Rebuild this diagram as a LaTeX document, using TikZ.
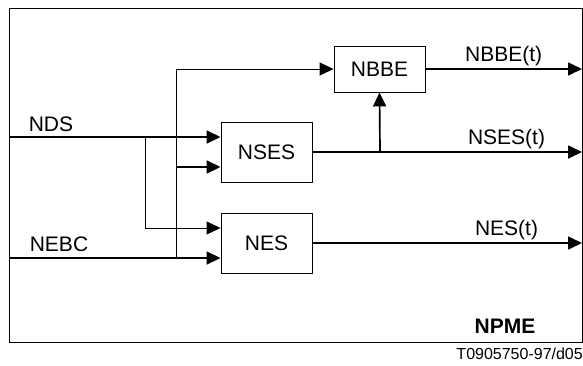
\documentclass[tikz,border=0pt]{standalone}
\usepackage{fontspec}
\setmainfont{Liberation Sans}
\usepackage{tikz}
\usetikzlibrary{arrows.meta,positioning,calc}

\tikzset{
    blk/.style={draw, line width=0.9pt, minimum width=91pt, inner sep=0pt, font=\fontsize{21}{25}\selectfont},
    sig/.style={line width=1.7pt, -{Triangle[length=14pt,width=13pt]}},
    tap/.style={line width=0.9pt},
    lbl/.style={font=\fontsize{21}{25}\selectfont}
}

\begin{document}
\begin{tikzpicture}[x=1pt,y=-1pt]
        \useasboundingbox (0,0) rectangle (583,365);
        \draw[line width=0.9pt] (9,8) rectangle (582,342);
        % blocks
        \node[blk, minimum height=60pt] (NSES) at (266.5,152) {NSES};
        \node[blk, minimum height=60pt] (NES) at (266.5,243) {NES};
        \node[blk, minimum height=46pt] (NBBE) at (379.5,69) {NBBE};
        % inputs
        \coordinate (NDS) at (9,137);
        \coordinate (NEBC) at (9,258);
        \coordinate (A) at (145,137);
        \coordinate (B) at (176,258);
        \coordinate (C) at (176,167);
        \coordinate (D) at (145,228);
        \coordinate (E) at (176,69);
        \draw[sig] (NDS) -- (NDS -| NSES.west);
        \draw[sig] (NEBC) -- (NEBC -| NES.west);
        \draw[tap] (A) -- (D);
        \draw[tap, -{Triangle[length=14pt,width=13pt]}] (D) -- (D -| NES.west);
        \draw[tap] (B) -- (E);
        \draw[tap, -{Triangle[length=14pt,width=13pt]}] (E) -- (NBBE.west);
        \draw[sig] (C) -- (C -| NSES.west);
        % outputs
        \coordinate (F) at (380,152);
        \draw[sig] (NBBE.east) -- (582,69) node[lbl, pos=0.5, above=-1pt] {NBBE(t)};
        \draw[sig] (NSES.east) -- (582,152) node[lbl, pos=0.72, above=-1pt] {NSES(t)};
        \draw[sig] (F) -- (NBBE.south);
        \draw[sig] (NES.east) -- (582,243) node[lbl, pos=0.72, above=-1pt] {NES(t)};
        % labels
        \node[lbl] (ndslbl) at (51,124) {NDS};
        \node[lbl] (nebclbl) at (59,244) {NEBC};
        \node[lbl, font=\fontsize{21}{25}\selectfont\bfseries] (npme) at (505,326) {NPME};
        \node[anchor=east, inner sep=0pt, font=\fontsize{16}{19}\selectfont] (code) at (583,354) {T0905750-97/d05};
    \end{tikzpicture}
\end{document}
